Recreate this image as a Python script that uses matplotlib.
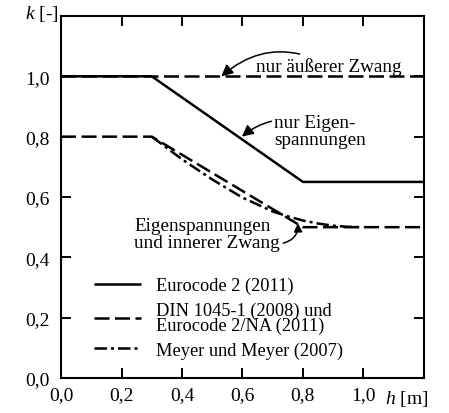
import matplotlib
matplotlib.use("Agg")
import matplotlib.pyplot as plt
from matplotlib.ticker import FuncFormatter

plt.rcParams["font.family"] = ["Liberation Serif", "DejaVu Serif"]
plt.rcParams["mathtext.fontset"] = "custom"
plt.rcParams["mathtext.it"] = "Liberation Serif:italic"

# Reduction factor k over component thickness h
ec2_h = [0.0, 0.3, 0.8, 1.2]
ec2_k = [1.0, 1.0, 0.65, 0.65]

ext_h = [0.0, 1.2]
ext_k = [1.0, 1.0]

din_h = [0.0, 0.3, 0.8, 1.2]
din_k = [0.8, 0.8, 0.5, 0.5]

meyer_h = [0.3, 0.4, 0.5, 0.6, 0.7, 0.75, 0.8, 0.85, 0.9, 0.95, 1.0]
meyer_k = [0.8, 0.725, 0.658, 0.598, 0.552, 0.536, 0.522, 0.512, 0.505, 0.501, 0.5]

xticks = [0.0, 0.2, 0.4, 0.6, 0.8, 1.0]
yticks = [0.0, 0.2, 0.4, 0.6, 0.8, 1.0]

fig = plt.figure(figsize=(4.49, 4.14), dpi=100)
ax = fig.add_axes([0.136, 0.0845, 0.808, 0.8745])

lw = 1.8
dash = (0, (6, 2.2))
dashdot = (0, (5, 1.6, 1.2, 1.6))

l_ec2, = ax.plot(ec2_h, ec2_k, color="black", lw=lw, solid_capstyle="butt")
ax.plot(ext_h, ext_k, color="black", lw=lw, linestyle=dash)
l_din, = ax.plot(din_h, din_k, color="black", lw=lw, linestyle=dash)
l_mey, = ax.plot(meyer_h, meyer_k, color="black", lw=lw, linestyle=dashdot)

ax.set_xlim(0, 1.2)
ax.set_ylim(0, 1.2)
ax.set_xticks(xticks + [1.2])
ax.set_yticks(yticks + [1.2])

fmt = FuncFormatter(lambda v, p: "" if v > 1.05 else f"{v:.1f}".replace(".", ","))
ax.xaxis.set_major_formatter(fmt)
ax.yaxis.set_major_formatter(fmt)
ax.tick_params(direction="in", length=7, width=1.4, top=True, right=True,
               labelsize=14, pad=6, colors="black")
ax.tick_params(axis="y", pad=8)
for s in ax.spines.values():
    s.set_linewidth(1.5)

ax.text(-0.01, 1.21, r"$k$ [-]", fontsize=14, ha="right", va="center")
ax.text(1.215, -0.065, r"$h$ [m]", fontsize=14, ha="right", va="center",
        transform=ax.transData, clip_on=False)

ann_fs = 13.8
arrow = dict(arrowstyle="-|>,head_length=0.5,head_width=0.25", color="black",
             lw=1.1, shrinkA=0, shrinkB=0, connectionstyle="arc3,rad=0.35")
ax.annotate("nur äußerer Zwang", xy=(0.53, 1.0), xytext=(0.645, 1.035),
            fontsize=ann_fs, va="center", ha="left", arrowprops=arrow)
ax.annotate("nur Eigen-\nspannungen", xy=(0.598, 0.80), xytext=(0.705, 0.82),
            fontsize=ann_fs, va="center", ha="left", linespacing=1.0,
            arrowprops=dict(arrow, connectionstyle="arc3,rad=0.35"))
ax.text(0.242, 0.478, "Eigenspannungen\nund innerer Zwang", fontsize=ann_fs,
        va="center", ha="left", linespacing=1.0)
ax.annotate("", xy=(0.783, 0.513), xytext=(0.735, 0.447),
            arrowprops=dict(arrow, connectionstyle="arc3,rad=0.4"))

leg = ax.legend([l_ec2, l_din, l_mey],
                ["Eurocode 2 (2011)", "DIN 1045-1 (2008) und\nEurocode 2/NA (2011)",
                 "Meyer und Meyer (2007)"],
                loc="lower left", bbox_to_anchor=(0.065, 0.028), frameon=False,
                fontsize=13.2, handlelength=2.6, handletextpad=0.8,
                labelspacing=0.4, borderpad=0)
for t in leg.get_texts():
    t.set_linespacing(0.85)

fig.savefig("out.png", dpi=100)
